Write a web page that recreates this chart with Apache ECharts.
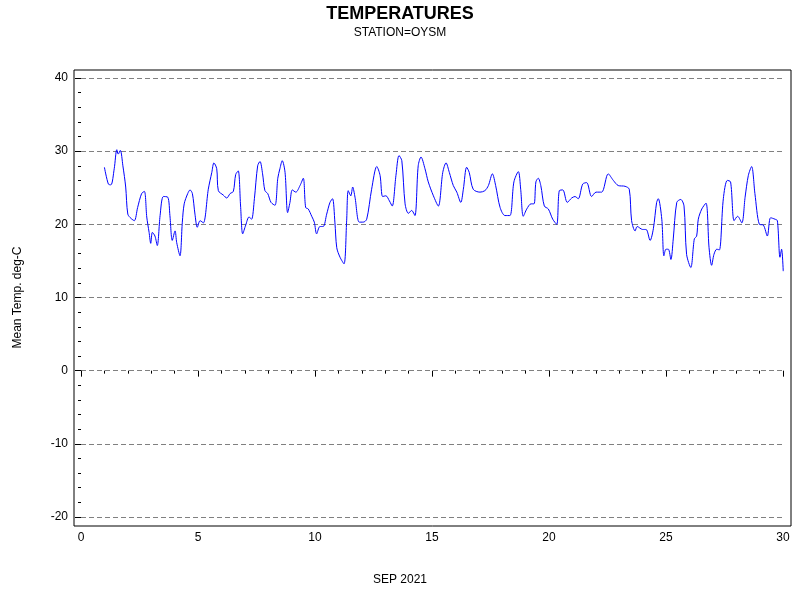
<!DOCTYPE html>
<html><head><meta charset="utf-8">
<script src="https://cdn.jsdelivr.net/npm/echarts@6/dist/echarts.min.js"></script>
<style>html,body{margin:0;padding:0;background:#fff}#c{width:800px;height:600px}</style>
</head><body><div id="c"></div>
<script>
const days = [1.00,1.17,1.28,1.42,1.53,1.59,1.68,1.79,1.91,2.00,2.14,2.28,2.42,2.59,2.71,2.81,2.91,2.98,3.05,3.16,3.26,3.38,3.52,3.71,3.80,3.90,4.02,4.09,4.23,4.33,4.41,4.56,4.66,4.76,4.87,4.97,5.09,5.23,5.44,5.59,5.68,5.80,5.87,6.08,6.23,6.37,6.51,6.61,6.72,6.82,6.91,7.04,7.18,7.29,7.41,7.55,7.65,7.76,7.86,7.98,8.12,8.29,8.41,8.50,8.60,8.72,8.83,8.93,9.03,9.18,9.36,9.50,9.60,9.71,9.86,9.97,10.07,10.21,10.35,10.50,10.64,10.75,10.85,10.93,11.07,11.24,11.35,11.42,11.53,11.61,11.71,11.89,12.06,12.21,12.42,12.64,12.78,12.89,13.03,13.18,13.30,13.46,13.59,13.71,13.85,13.99,14.13,14.27,14.41,14.53,14.70,14.84,15.06,15.27,15.46,15.60,15.74,15.91,16.06,16.23,16.34,16.48,16.59,16.76,17.05,17.26,17.41,17.58,17.72,17.91,18.12,18.33,18.50,18.69,18.79,18.90,19.05,19.23,19.36,19.44,19.54,19.65,19.80,19.97,20.16,20.33,20.44,20.59,20.78,20.97,21.11,21.25,21.44,21.61,21.82,22.01,22.25,22.53,22.75,22.96,23.25,23.43,23.53,23.68,23.77,24.00,24.15,24.32,24.46,24.60,24.67,24.82,24.91,25.00,25.10,25.21,25.31,25.46,25.63,25.77,25.88,26.06,26.21,26.31,26.38,26.53,26.71,26.84,26.95,27.05,27.17,27.28,27.45,27.62,27.76,27.91,28.06,28.24,28.38,28.52,28.66,28.80,28.99,29.16,29.33,29.47,29.66,29.76,29.87,29.94,30.01];
const temps = [27.8,25.5,25.4,27.6,30.2,29.6,30.1,28.0,25.1,21.4,20.8,20.5,22.3,24.2,24.5,21.0,18.9,17.4,18.9,18.4,17.1,21.2,23.8,23.7,21.2,17.8,19.1,17.5,15.7,20.3,22.8,24.2,24.7,24.2,21.4,19.6,20.5,20.2,24.8,27.1,28.4,27.6,24.6,24.0,23.6,24.2,24.5,26.8,27.3,22.5,18.7,19.9,21.0,20.7,23.5,28.0,28.6,26.9,24.6,24.2,23.0,22.6,26.3,27.6,28.7,27.1,21.6,23.0,24.7,24.4,25.3,26.3,22.3,22.1,21.1,20.3,18.7,19.7,19.7,21.4,23.0,23.5,20.3,16.8,15.5,14.6,20.3,24.6,23.9,25.1,23.7,20.3,20.3,20.7,24.8,27.9,26.7,23.8,23.9,23.2,22.5,26.7,29.4,28.7,22.8,21.5,21.9,21.2,28.0,29.2,27.6,25.8,23.9,22.5,27.1,28.4,27.1,25.3,24.4,23.0,24.8,27.8,27.1,24.8,24.4,24.6,25.3,26.9,25.3,22.3,21.2,21.2,25.8,27.2,24.8,21.1,22.1,22.8,22.8,25.8,26.3,25.3,22.5,22.1,20.7,20.0,24.6,24.7,23.0,23.6,23.8,23.5,25.5,25.7,23.8,24.4,24.4,26.9,26.0,25.3,25.2,24.8,20.5,19.1,19.7,19.3,19.3,17.8,19.4,23.0,23.5,20.7,15.7,16.6,16.6,15.2,18.0,23.0,23.4,22.5,15.9,14.1,18.0,18.4,20.7,22.1,22.9,16.8,14.4,15.9,16.6,16.5,23.5,26.0,25.8,20.5,21.1,20.2,23.7,26.7,27.9,24.2,20.0,19.9,18.4,20.9,20.7,20.5,15.5,16.6,13.6];
const data = days.map((d,i)=>[d,temps[i]]);
const chart = echarts.init(document.getElementById('c'));
const font = 'Liberation Sans, Arial, sans-serif';
chart.setOption({
  animation:false,
  title:{text:'TEMPERATURES',subtext:'STATION=OYSM',left:'center',top:0,itemGap:4,
    textStyle:{fontFamily:font,fontSize:18,fontWeight:'bold',color:'#000'},
    subtextStyle:{fontFamily:font,fontSize:12,color:'#000'}},
  graphic:[{type:'rect',shape:{x:74,y:70,width:717,height:456},style:{fill:'none',stroke:'#000',lineWidth:1},z:10},
    {type:'text',left:'center',top:574,style:{text:'SEP 2021',font:'12px '+font,fill:'#000'}}],
  grid:{left:81,right:17,top:78,bottom:83},
  xAxis:{type:'value',min:0,max:30,interval:5,offset:9,
    axisLine:{show:false},axisTick:{show:true,length:6,lineStyle:{color:'#000'}},
    minorTick:{show:true,splitNumber:5,length:3,lineStyle:{color:'#000'}},
    axisLabel:{color:'#000',fontFamily:font,fontSize:12,margin:6},splitLine:{show:false}},
  yAxis:{type:'value',min:-20,max:40,interval:10,offset:7,name:'Mean Temp. deg-C',nameLocation:'middle',nameGap:50,
    nameTextStyle:{fontFamily:font,fontSize:12,color:'#000'},
    axisLine:{show:false},axisTick:{show:true,length:6,lineStyle:{color:'#000'}},
    minorTick:{show:true,splitNumber:5,length:3,lineStyle:{color:'#000'}},
    axisLabel:{color:'#000',fontFamily:font,fontSize:12,margin:6},
    splitLine:{show:true,lineStyle:{color:'#808080',type:[5,3]}}},
  series:[{type:'line',data:data,showSymbol:false,lineStyle:{color:'#0000ff',width:1},smooth:0.3}]
});
</script></body></html>
